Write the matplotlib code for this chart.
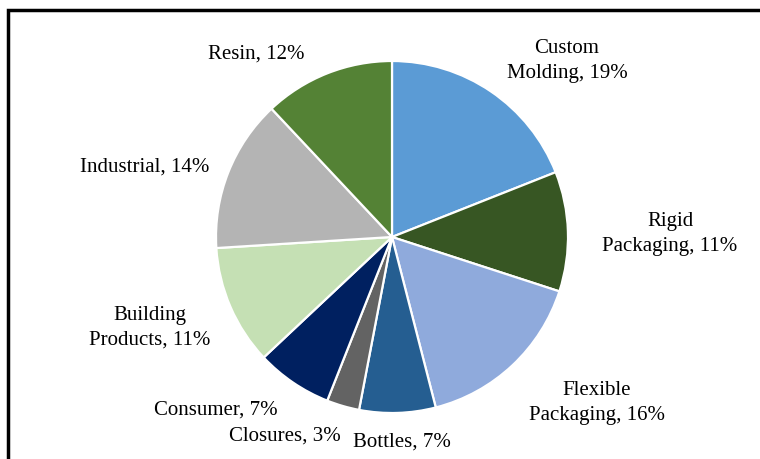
import numpy as np
import matplotlib
matplotlib.use("Agg")
import matplotlib.pyplot as plt
from matplotlib.patches import Rectangle

# Data
segments = ['Custom Molding', 'Rigid Packaging', 'Flexible Packaging', 'Bottles', 'Closures',
            'Consumer', 'Building Products', 'Industrial', 'Resin']
shares = [19, 11, 16, 7, 3, 7, 11, 14, 12]
label_text = ['Custom\nMolding, 19%', 'Rigid\nPackaging, 11%', 'Flexible\nPackaging, 16%', 'Bottles, 7%',
              'Closures, 3%', 'Consumer, 7%', 'Building\nProducts, 11%', 'Industrial, 14%', 'Resin, 12%']
colors = ['#5B9BD5', '#375623', '#8FAADC', '#255E91', '#636363',
          '#002060', '#C5E0B4', '#B4B4B4', '#548235']

# label centres in pixels (layout only)
label_px = [(567, 61), (670, 234), (597, 403), (402, 442), (285, 436),
            (216, 410), (150, 328), (145, 167), (256, 54)]

W, H = 760, 460
cx, cy, r = 392, 238, 176

plt.rcParams['font.family'] = ['Liberation Serif', 'DejaVu Serif']
fig = plt.figure(figsize=(W / 100, H / 100), dpi=100)
ax = fig.add_axes([(cx - r) / W, (H - cy - r) / H, 2 * r / W, 2 * r / H])

ax.pie(shares, colors=colors, startangle=90, counterclock=False,
       wedgeprops=dict(edgecolor='white', linewidth=1.6))
ax.set_xlim(-1, 1)
ax.set_ylim(-1, 1)
ax.set_aspect('auto')
ax.axis('off')

for txt, (px, py) in zip(label_text, label_px):
    fig.text(px / W, 1 - py / H, txt, ha='center', va='center', fontsize=15,
             color='black', linespacing=1.4)

# outer frame
fig.patches.append(Rectangle((8 / W, -0.1), 1.0, 1 - 11 / H + 0.1, transform=fig.transFigure,
                             fill=False, edgecolor='black', linewidth=2.5))

fig.savefig('out.png', dpi=100)
